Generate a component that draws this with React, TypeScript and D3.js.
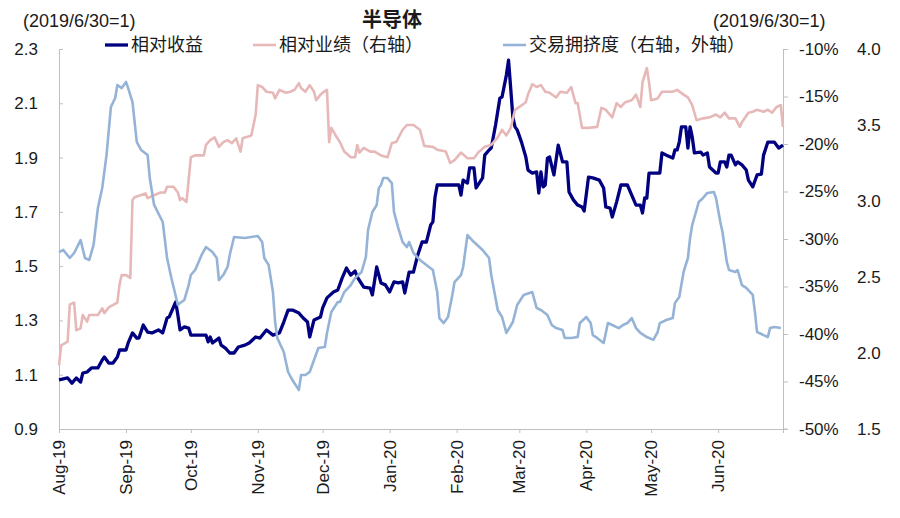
import { useEffect, useRef } from 'react'
import {
  axisBottom,
  axisLeft,
  axisRight,
  line,
  scaleLinear,
  scaleTime,
  select,
  timeDay,
  timeMonth,
  timeFormat,
} from 'd3'

// days since 2019-08-01, value
type Point = [number, number]

const baseDate = new Date(2019, 7, 1)
const endDate = new Date(2020, 6, 1)

const leftTicks = [0.9, 1.1, 1.3, 1.5, 1.7, 1.9, 2.1, 2.3]
const innerRightTicks = [-50, -45, -40, -35, -30, -25, -20, -15, -10]
const outerRightTicks = [1.5, 2.0, 2.5, 3.0, 3.5, 4.0]

// 相对收益 (left axis)
const relativeReturn: Point[] = [
  [0, 1.081], [4, 1.088], [6, 1.069], [8, 1.088], [10, 1.073], [11, 1.106],
  [13, 1.11], [15, 1.125], [18, 1.125], [20, 1.154], [21, 1.165], [23, 1.143],
  [25, 1.143], [27, 1.165], [28, 1.191], [31, 1.191], [32, 1.217], [34, 1.254],
  [36, 1.235], [37, 1.235], [39, 1.283], [41, 1.257], [43, 1.254], [46, 1.265],
  [48, 1.254], [50, 1.309], [51, 1.313], [54, 1.368], [55, 1.32], [56, 1.265],
  [58, 1.276], [60, 1.272], [61, 1.246], [68, 1.246], [69, 1.221], [70, 1.239],
  [71, 1.217], [74, 1.235], [75, 1.209], [77, 1.198], [79, 1.18], [81, 1.18],
  [83, 1.202], [86, 1.209], [88, 1.217], [91, 1.239], [93, 1.235], [96, 1.265],
  [99, 1.246], [102, 1.254], [104, 1.294], [106, 1.338], [108, 1.338],
  [111, 1.327], [113, 1.309], [115, 1.294], [116, 1.239], [118, 1.302],
  [121, 1.313], [122, 1.346], [124, 1.383], [127, 1.405], [129, 1.412],
  [131, 1.456], [133, 1.493], [135, 1.467], [137, 1.482], [138, 1.46],
  [141, 1.423], [144, 1.419], [145, 1.394], [147, 1.497], [149, 1.438],
  [151, 1.431], [153, 1.405], [155, 1.442], [157, 1.438], [159, 1.442],
  [160, 1.401], [162, 1.478], [164, 1.478], [166, 1.541], [168, 1.589],
  [170, 1.589], [172, 1.652], [173, 1.663], [174, 1.755], [175, 1.799],
  [185, 1.799], [186, 1.762], [187, 1.817], [189, 1.806], [190, 1.862],
  [192, 1.862], [193, 1.788], [196, 1.825], [197, 1.909], [199, 1.928],
  [200, 1.935], [202, 2.02], [204, 2.119], [205, 2.123], [207, 2.204],
  [208, 2.259], [209, 2.156], [210, 2.049], [211, 2.013], [212, 2.002],
  [214, 1.957], [216, 1.902], [217, 1.854], [219, 1.843], [221, 1.847],
  [222, 1.769], [223, 1.847], [224, 1.792], [225, 1.799], [226, 1.898],
  [227, 1.902], [229, 1.836], [230, 1.891], [231, 1.946], [233, 1.884],
  [235, 1.884], [236, 1.773], [238, 1.744], [240, 1.725], [242, 1.718],
  [243, 1.703], [245, 1.828], [247, 1.825], [250, 1.817], [252, 1.788],
  [253, 1.718], [255, 1.714], [256, 1.681], [258, 1.736], [260, 1.799],
  [263, 1.799], [265, 1.762], [267, 1.725], [269, 1.725], [270, 1.696],
  [271, 1.751], [272, 1.751], [273, 1.843], [278, 1.843], [279, 1.917],
  [281, 1.909], [284, 1.898], [285, 1.928], [286, 1.928], [287, 1.957],
  [288, 2.013], [290, 2.013], [291, 1.935], [292, 2.013], [293, 1.976],
  [294, 1.917], [297, 1.92], [298, 1.909], [300, 1.917], [301, 1.865],
  [304, 1.843], [305, 1.843], [306, 1.884], [308, 1.884], [309, 1.865],
  [310, 1.909], [311, 1.909], [313, 1.873], [314, 1.884], [316, 1.873],
  [318, 1.854], [319, 1.817], [321, 1.792], [323, 1.836], [325, 1.839],
  [326, 1.909], [328, 1.957], [331, 1.957], [333, 1.935], [335, 1.946],
]

// 相对业绩 (right axis, %)
const relativePerformance: Point[] = [
  [0, -43.3], [1, -41.2], [4, -40.8], [5, -36.9], [7, -36.7], [8, -39.6],
  [10, -39.4], [11, -38.0], [13, -38.7], [14, -38.0], [18, -38.0], [20, -37.3],
  [21, -37.8], [23, -37.2], [27, -36.7], [28, -34.8], [29, -33.8], [31, -33.8],
  [33, -34.1], [34, -25.9], [35, -25.6], [40, -25.2], [41, -25.7], [44, -25.4],
  [47, -25.1], [49, -25.1], [50, -24.5], [53, -24.5], [55, -25.1], [56, -25.9],
  [57, -25.7], [59, -26.1], [61, -21.4], [63, -21.2], [67, -21.2], [68, -20.1],
  [70, -19.6], [72, -19.3], [74, -20.3], [76, -19.8], [78, -19.6], [80, -19.9],
  [82, -19.4], [84, -20.8], [85, -19.4], [89, -19.1], [91, -16.9], [92, -13.8],
  [94, -14.0], [96, -14.5], [99, -14.6], [100, -15.2], [102, -14.3],
  [105, -14.6], [107, -14.5], [109, -14.3], [111, -13.6], [112, -14.1],
  [114, -14.5], [116, -13.8], [118, -14.5], [119, -15.4], [121, -14.8],
  [122, -14.6], [124, -14.3], [125, -19.8], [126, -18.3], [128, -19.1],
  [130, -19.8], [132, -20.8], [135, -21.4], [137, -21.4], [138, -20.1],
  [139, -20.9], [141, -20.4], [144, -20.8], [146, -20.8], [149, -21.2],
  [152, -21.4], [154, -19.9], [156, -19.8], [159, -18.5], [161, -18.0],
  [164, -18.0], [167, -18.5], [169, -20.2], [173, -20.3], [175, -20.6],
  [179, -20.8], [181, -22.0], [183, -21.7], [186, -20.9], [189, -21.5],
  [192, -21.5], [194, -20.9], [197, -20.3], [200, -20.1], [203, -19.3],
  [205, -18.5], [207, -19.1], [209, -18.3], [211, -16.4], [213, -16.1],
  [216, -15.6], [217, -14.8], [219, -13.7], [221, -14.0], [223, -13.8],
  [225, -14.5], [227, -14.6], [230, -15.1], [232, -14.5], [235, -14.6],
  [237, -14.0], [239, -15.7], [240, -15.7], [242, -18.3], [245, -18.3],
  [249, -18.2], [251, -16.2], [253, -16.4], [256, -17.2], [258, -15.7],
  [260, -16.1], [262, -15.6], [265, -15.4], [267, -14.8], [269, -16.1],
  [270, -13.5], [272, -12.0], [273, -13.5], [274, -15.4], [277, -15.2],
  [279, -14.5], [281, -14.5], [284, -14.5], [286, -14.3], [289, -14.8],
  [291, -15.1], [293, -15.9], [295, -17.5], [298, -17.3], [301, -17.2],
  [304, -16.9], [306, -17.2], [308, -16.7], [310, -17.3], [313, -17.3],
  [315, -18.2], [316, -17.7], [319, -16.7], [321, -16.6], [323, -16.4],
  [326, -16.6], [328, -16.4], [330, -16.7], [332, -16.1], [334, -15.9],
  [335, -18.2],
]

// 交易拥挤度 (outer right axis)
const tradingCrowding: Point[] = [
  [0, 2.664], [2, 2.678], [5, 2.625], [7, 2.658], [10, 2.743], [12, 2.625],
  [14, 2.612], [16, 2.711], [18, 2.954], [20, 3.086], [22, 3.303], [24, 3.618],
  [26, 3.678], [27, 3.763], [29, 3.743], [31, 3.783], [32, 3.743], [34, 3.651],
  [36, 3.388], [38, 3.336], [41, 3.303], [42, 3.151], [44, 2.974], [48, 2.862],
  [50, 2.625], [52, 2.493], [55, 2.316], [56, 2.329], [58, 2.349], [60, 2.447],
  [61, 2.513], [63, 2.546], [66, 2.645], [68, 2.697], [71, 2.664], [73, 2.625],
  [74, 2.48], [76, 2.513], [78, 2.566], [79, 2.645], [81, 2.763], [86, 2.757],
  [92, 2.77], [94, 2.73], [95, 2.625], [97, 2.579], [99, 2.401], [100, 2.204],
  [101, 2.099], [104, 2.007], [106, 1.875], [108, 1.822], [111, 1.757],
  [112, 1.855], [114, 1.855], [116, 1.875], [118, 1.954], [120, 2.033],
  [123, 2.039], [124, 2.132], [126, 2.27], [129, 2.336], [130, 2.336],
  [132, 2.401], [135, 2.447], [137, 2.493], [140, 2.533], [142, 2.632],
  [143, 2.809], [145, 2.928], [147, 2.974], [148, 3.086], [149, 3.105],
  [150, 3.151], [152, 3.151], [154, 3.118], [155, 2.928], [157, 2.822],
  [159, 2.73], [161, 2.697], [162, 2.73], [164, 2.658], [167, 2.612],
  [170, 2.579], [173, 2.546], [175, 2.401], [176, 2.23], [178, 2.197],
  [180, 2.237], [182, 2.382], [183, 2.467], [186, 2.513], [187, 2.566],
  [189, 2.776], [192, 2.73], [196, 2.678], [199, 2.625], [200, 2.513],
  [203, 2.283], [205, 2.237], [207, 2.132], [210, 2.204], [212, 2.316],
  [215, 2.382], [219, 2.401], [221, 2.296], [223, 2.283], [226, 2.25],
  [228, 2.184], [230, 2.164], [233, 2.151], [234, 2.099], [237, 2.099],
  [240, 2.105], [241, 2.197], [244, 2.237], [246, 2.197], [247, 2.118],
  [249, 2.099], [252, 2.066], [254, 2.197], [256, 2.184], [259, 2.164],
  [261, 2.184], [263, 2.197], [265, 2.23], [267, 2.164], [269, 2.132],
  [272, 2.105], [275, 2.086], [277, 2.138], [278, 2.197], [281, 2.217],
  [284, 2.23], [285, 2.329], [287, 2.368], [289, 2.533], [291, 2.625],
  [292, 2.757], [293, 2.842], [296, 2.993], [298, 3.02], [300, 3.053],
  [303, 3.059], [304, 3.02], [306, 2.862], [307, 2.796], [309, 2.599],
  [310, 2.546], [313, 2.533], [314, 2.546], [316, 2.447], [318, 2.428],
  [321, 2.382], [322, 2.27], [323, 2.138], [326, 2.118], [328, 2.105],
  [329, 2.164], [331, 2.171], [334, 2.164],
]

const width = 900
const height = 518
const margin = { top: 49, right: 117, bottom: 89, left: 59 }

const latin = '"Liberation Sans", Arial, "Noto Sans CJK SC", sans-serif'
const axisColor = '#bfbfbf'
const colors = {
  relativeReturn: '#000080',
  relativePerformance: '#e6b9b8',
  tradingCrowding: '#95b3d7',
}

export default function App() {
  const leftAxisRef = useRef<SVGGElement>(null)
  const rightAxisRef = useRef<SVGGElement>(null)
  const outerAxisRef = useRef<SVGGElement>(null)
  const bottomAxisRef = useRef<SVGGElement>(null)

  const x0 = margin.left
  const x1 = width - margin.right
  const y0 = height - margin.bottom
  const y1 = margin.top

  const xScale = scaleTime().domain([baseDate, endDate]).range([x0, x1])
  const yLeft = scaleLinear().domain([0.9, 2.3]).range([y0, y1])
  const yRight = scaleLinear().domain([-50, -10]).range([y0, y1])
  const yOuter = scaleLinear().domain([1.5, 4.0]).range([y0, y1])

  const monthStarts = timeMonth.range(baseDate, timeDay.offset(endDate, 1))
  const labelMonths = monthStarts.filter((d) => d < endDate)
  const monthLabel = timeFormat('%b-%y')

  const makeLine = (yScale: (v: number) => number) =>
    line<Point>()
      .x((d) => xScale(timeDay.offset(baseDate, d[0])))
      .y((d) => yScale(d[1]))

  useEffect(() => {
    const styleAxis = (g: any) => {
      g.selectAll('.domain').attr('stroke', axisColor)
      g.selectAll('.tick line').attr('stroke', axisColor)
      g.selectAll('text')
        .attr('fill', '#1a1a1a')
        .style('font-family', latin)
        .style('font-size', '17px')
    }
    if (leftAxisRef.current) {
      select(leftAxisRef.current)
        .call(
          axisLeft(yLeft)
            .tickValues(leftTicks)
            .tickSizeInner(-4)
            .tickSizeOuter(0)
            .tickPadding(21)
            .tickFormat((v) => Number(v).toFixed(1)),
        )
        .call(styleAxis)
    }
    if (rightAxisRef.current) {
      select(rightAxisRef.current)
        .call(
          axisRight(yRight)
            .tickValues(innerRightTicks)
            .tickSizeInner(5)
            .tickSizeOuter(0)
            .tickPadding(11)
            .tickFormat((v) => `${v}%`),
        )
        .call(styleAxis)
    }
    if (outerAxisRef.current) {
      select(outerAxisRef.current)
        .call(
          axisRight(yOuter)
            .tickValues(outerRightTicks)
            .tickSize(0)
            .tickPadding(74)
            .tickFormat((v) => Number(v).toFixed(1)),
        )
        .call(styleAxis)
        .call((g: any) => g.select('.domain').remove())
    }
    if (bottomAxisRef.current) {
      select(bottomAxisRef.current)
        .call(
          axisBottom(xScale)
            .tickValues(monthStarts)
            .tickSizeInner(4)
            .tickSizeOuter(0)
            .tickFormat(() => ''),
        )
        .call(styleAxis)
    }
  }, [])

  const legend = [
    { label: '相对收益', color: colors.relativeReturn, x: 105, w: 3.3 },
    { label: '相对业绩（右轴）', color: colors.relativePerformance, x: 253, w: 2.6 },
    { label: '交易拥挤度（右轴，外轴）', color: colors.tradingCrowding, x: 503, w: 2.6 },
  ]

  return (
    <div style={{ position: 'fixed', left: 0, top: 0 }}>
      <svg width={width} height={height} style={{ display: 'block', background: '#fff' }}>
        <text x={23} y={27} fontFamily={latin} fontSize={18} fill="#1a1a1a">
          (2019/6/30=1)
        </text>
        <text
          x={392}
          y={27}
          textAnchor="middle"
          fontFamily={latin}
          fontSize={20}
          fontWeight="bold"
          fill="#1a1a1a"
        >
          半导体
        </text>
        <text x={713} y={27} fontFamily={latin} fontSize={18} fill="#1a1a1a">
          (2019/6/30=1)
        </text>

        {legend.map((item) => (
          <g key={item.label}>
            <line
              x1={item.x}
              x2={item.x + 23}
              y1={45}
              y2={45}
              stroke={item.color}
              strokeWidth={item.w}
            />
            <text
              x={item.x + 26}
              y={51}
              fontFamily={latin}
              fontSize={18}
              fill="#1a1a1a"
            >
              {item.label}
            </text>
          </g>
        ))}

        <g ref={bottomAxisRef} transform={`translate(0, ${y0})`} />
        <line x1={x1} x2={x1 + 4} y1={y0} y2={y0} stroke={axisColor} />
        <g ref={leftAxisRef} transform={`translate(${x0}, 0)`} />
        <g ref={rightAxisRef} transform={`translate(${x1}, 0)`} />
        <g ref={outerAxisRef} transform={`translate(${x1}, 0)`} />

        {labelMonths.map((d) => (
          <text
            key={d.getTime()}
            transform={`translate(${xScale(d)}, ${y0 + 11}) rotate(-90)`}
            textAnchor="end"
            dy="0.35em"
            fontFamily={latin}
            fontSize={17}
            fill="#1a1a1a"
          >
            {monthLabel(d)}
          </text>
        ))}

        <path
          d={makeLine(yLeft)(relativeReturn) ?? ''}
          fill="none"
          stroke={colors.relativeReturn}
          strokeWidth={3.3}
          strokeLinejoin="round"
        />
        <path
          d={makeLine(yRight)(relativePerformance) ?? ''}
          fill="none"
          stroke={colors.relativePerformance}
          strokeWidth={2.6}
          strokeLinejoin="round"
        />
        <path
          d={makeLine(yOuter)(tradingCrowding) ?? ''}
          fill="none"
          stroke={colors.tradingCrowding}
          strokeWidth={2.6}
          strokeLinejoin="round"
        />
      </svg>
    </div>
  )
}
